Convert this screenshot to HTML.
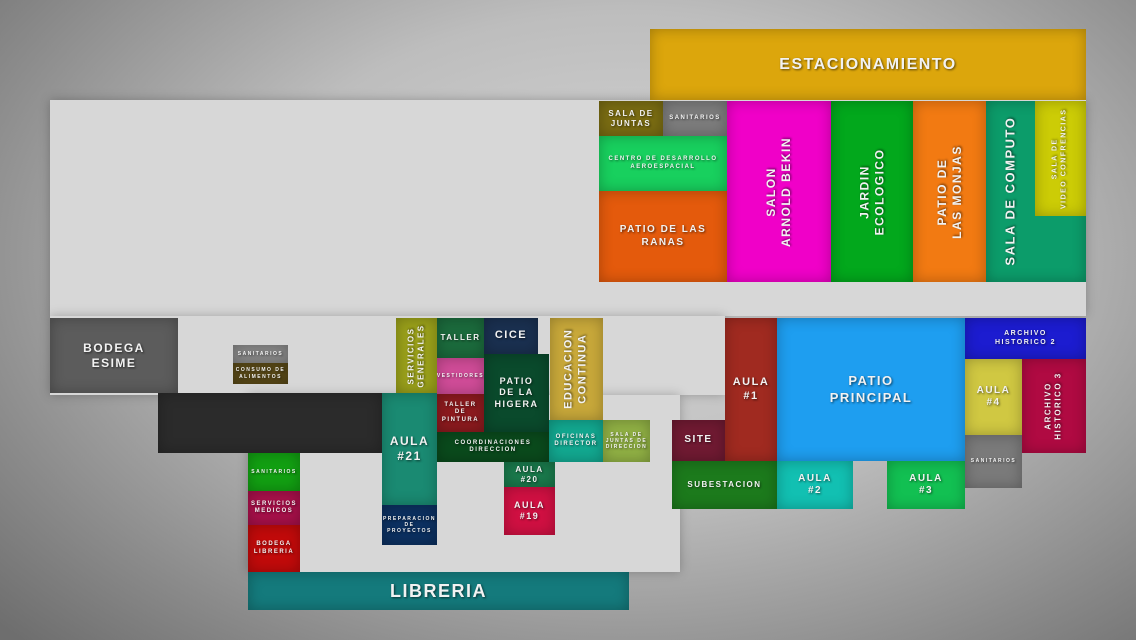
<!DOCTYPE html>
<html><head><meta charset="utf-8"><style>
html,body{margin:0;padding:0}
body{width:1136px;height:640px;overflow:hidden;position:relative;font-family:"Liberation Sans",sans-serif;
background:radial-gradient(ellipse 75% 85% at 55% 40%,#d8d8d8 0%,#bdbdbd 45%,#8a8a8a 80%,#6e6e6e 100%);}
.floor{position:absolute;background:#d7d7d7;box-shadow:0 0 10px rgba(0,0,0,.25)}
.room{position:absolute;display:flex;align-items:center;justify-content:center;text-align:center;color:#f2f2f2;
font-weight:bold;text-transform:uppercase;letter-spacing:1.5px;line-height:1.25;box-shadow:inset 0 0 14px rgba(0,0,0,.28);
text-shadow:1px 1px 2px rgba(0,0,0,.6);box-sizing:border-box;overflow:hidden}
.room span{display:block;white-space:nowrap}
.v span{transform:rotate(-90deg)}
</style></head><body>
<div class="floor" style="left:50px;top:100px;width:1036px;height:216px"></div>
<div class="floor" style="left:50px;top:316px;width:675px;height:79px"></div>
<div class="floor" style="left:248px;top:395px;width:432px;height:177px"></div>
<div id="plan"></div>
<script>
const rooms=[
["estacionamiento","ESTACIONAMIENTO",650,29,1086,100,"#dca60c",16,0],
["sala-de-juntas","SALA DE<br>JUNTAS",599,101,663,136,"#7a6c12",8,0],
["sanitarios-top","SANITARIOS",663,101,727,136,"#7c7c7c",6,0],
["centro-desarrollo","CENTRO DE DESARROLLO<br>AEROESPACIAL",599,136,727,191,"#18d05e",6,0],
["patio-de-las-ranas","PATIO DE LAS<br>RANAS",599,191,727,282,"#e45a0c",10,0],
["salon-arnold-bekin","SALON<br>ARNOLD BEKIN",727,101,831,282,"#f000c8",12,1],
["jardin-ecologico","JARDIN<br>ECOLOGICO",831,101,913,282,"#02a81c",12,1],
["patio-de-las-monjas","PATIO DE<br>LAS MONJAS",913,101,986,282,"#f27a12",12,1],
["sala-de-computo","SALA DE COMPUTO",986,101,1086,282,"#0c9c6a",13,1],
["sala-video","SALA DE<br>VIDEO CONFRENCIAS",1035,101,1086,216,"#cccc06",7,1],
["bodega-esime","BODEGA<br>ESIME",50,318,178,393,"#5c5c5c",12,0],
["sanitarios-small","SANITARIOS",233,345,288,363,"#8a8a8a",5,0],
["consumo-alimentos","CONSUMO DE<br>ALIMENTOS",233,363,288,384,"#5a4a18",5,0],
["dark-hall","",158,393,382,453,"#2b2b2b",8,0],
["servicios-generales","SERVICIOS<br>GENERALES",396,318,437,393,"#9aa01a",8,1],
["taller","TALLER",437,318,484,358,"#1b6a3c",8,0],
["cice","CICE",484,318,538,354,"#1a3050",11,0],
["vestidores","VESTIDORES",437,358,484,394,"#d04c98",5,0],
["taller-pintura","TALLER<br>DE<br>PINTURA",437,394,484,432,"#8c1a1e",6,0],
["patio-higera","PATIO<br>DE LA<br>HIGERA",484,354,549,432,"#0a4a2c",9,0],
["coordinaciones","COORDINACIONES<br>DIRECCION",437,432,549,462,"#0a4a1c",6,0],
["aula-21","AULA<br>#21",382,393,437,505,"#1a8a72",12,0],
["preparacion-proyectos","PREPARACION<br>DE<br>PROYECTOS",382,505,437,545,"#0c3060",5,0],
["educacion-continua","EDUCACION<br>CONTINUA",550,318,603,420,"#c8a83a",11,1],
["oficinas-director","OFICINAS<br>DIRECTOR",549,420,603,462,"#12a890",6,0],
["sala-juntas-direccion","SALA DE<br>JUNTAS DE<br>DIRECCION",603,420,650,462,"#90b044",5,0],
["aula-20","AULA<br>#20",504,462,555,487,"#1a7a4c",8,0],
["aula-19","AULA<br>#19",504,487,555,535,"#d01042",9,0],
["sanitarios-green","SANITARIOS",248,453,300,491,"#12a012",5,0],
["servicios-medicos","SERVICIOS<br>MEDICOS",248,491,300,525,"#a8104a",6,0],
["bodega-libreria","BODEGA<br>LIBRERIA",248,525,300,572,"#c20a0a",6,0],
["libreria","LIBRERIA",248,572,629,610,"#147a7c",18,0],
["site","SITE",672,420,725,461,"#701a32",10,0],
["aula-1","AULA<br>#1",725,318,777,461,"#a02a20",11,0],
["patio-principal","PATIO<br>PRINCIPAL",777,318,965,461,"#1e9ef0",13,0],
["subestacion","SUBESTACION",672,461,777,509,"#1c7a1c",8,0],
["aula-2","AULA<br>#2",777,461,853,509,"#12c0b2",10,0],
["aula-3","AULA<br>#3",887,461,965,509,"#12c052",10,0],
["archivo-historico-2","ARCHIVO<br>HISTORICO 2",965,318,1086,359,"#1c1cd0",7,0],
["aula-4","AULA<br>#4",965,359,1022,435,"#d0c842",10,0],
["archivo-historico-3","ARCHIVO<br>HISTORICO 3",1022,359,1086,453,"#b00a42",8,1],
["sanitarios-right","SANITARIOS",965,435,1022,488,"#7a7a7a",5,0]
];
const plan=document.getElementById('plan');
for(const r of rooms){
  const el=document.createElement('div');
  el.className='room'+(r[8]?' v':'');
  
  
  el.style.left=r[2]+'px';el.style.top=r[3]+'px';
  el.style.width=(r[4]-r[2])+'px';el.style.height=(r[5]-r[3])+'px';
  el.style.background=r[6];el.style.fontSize=r[7]+'px';
  if(r[0]==='sala-de-computo'){el.style.paddingRight='52px';}
  const s=document.createElement('span');
  
  
  s.innerHTML=r[1];
  el.appendChild(s);
  plan.appendChild(el);
}
</script>
</body></html>
